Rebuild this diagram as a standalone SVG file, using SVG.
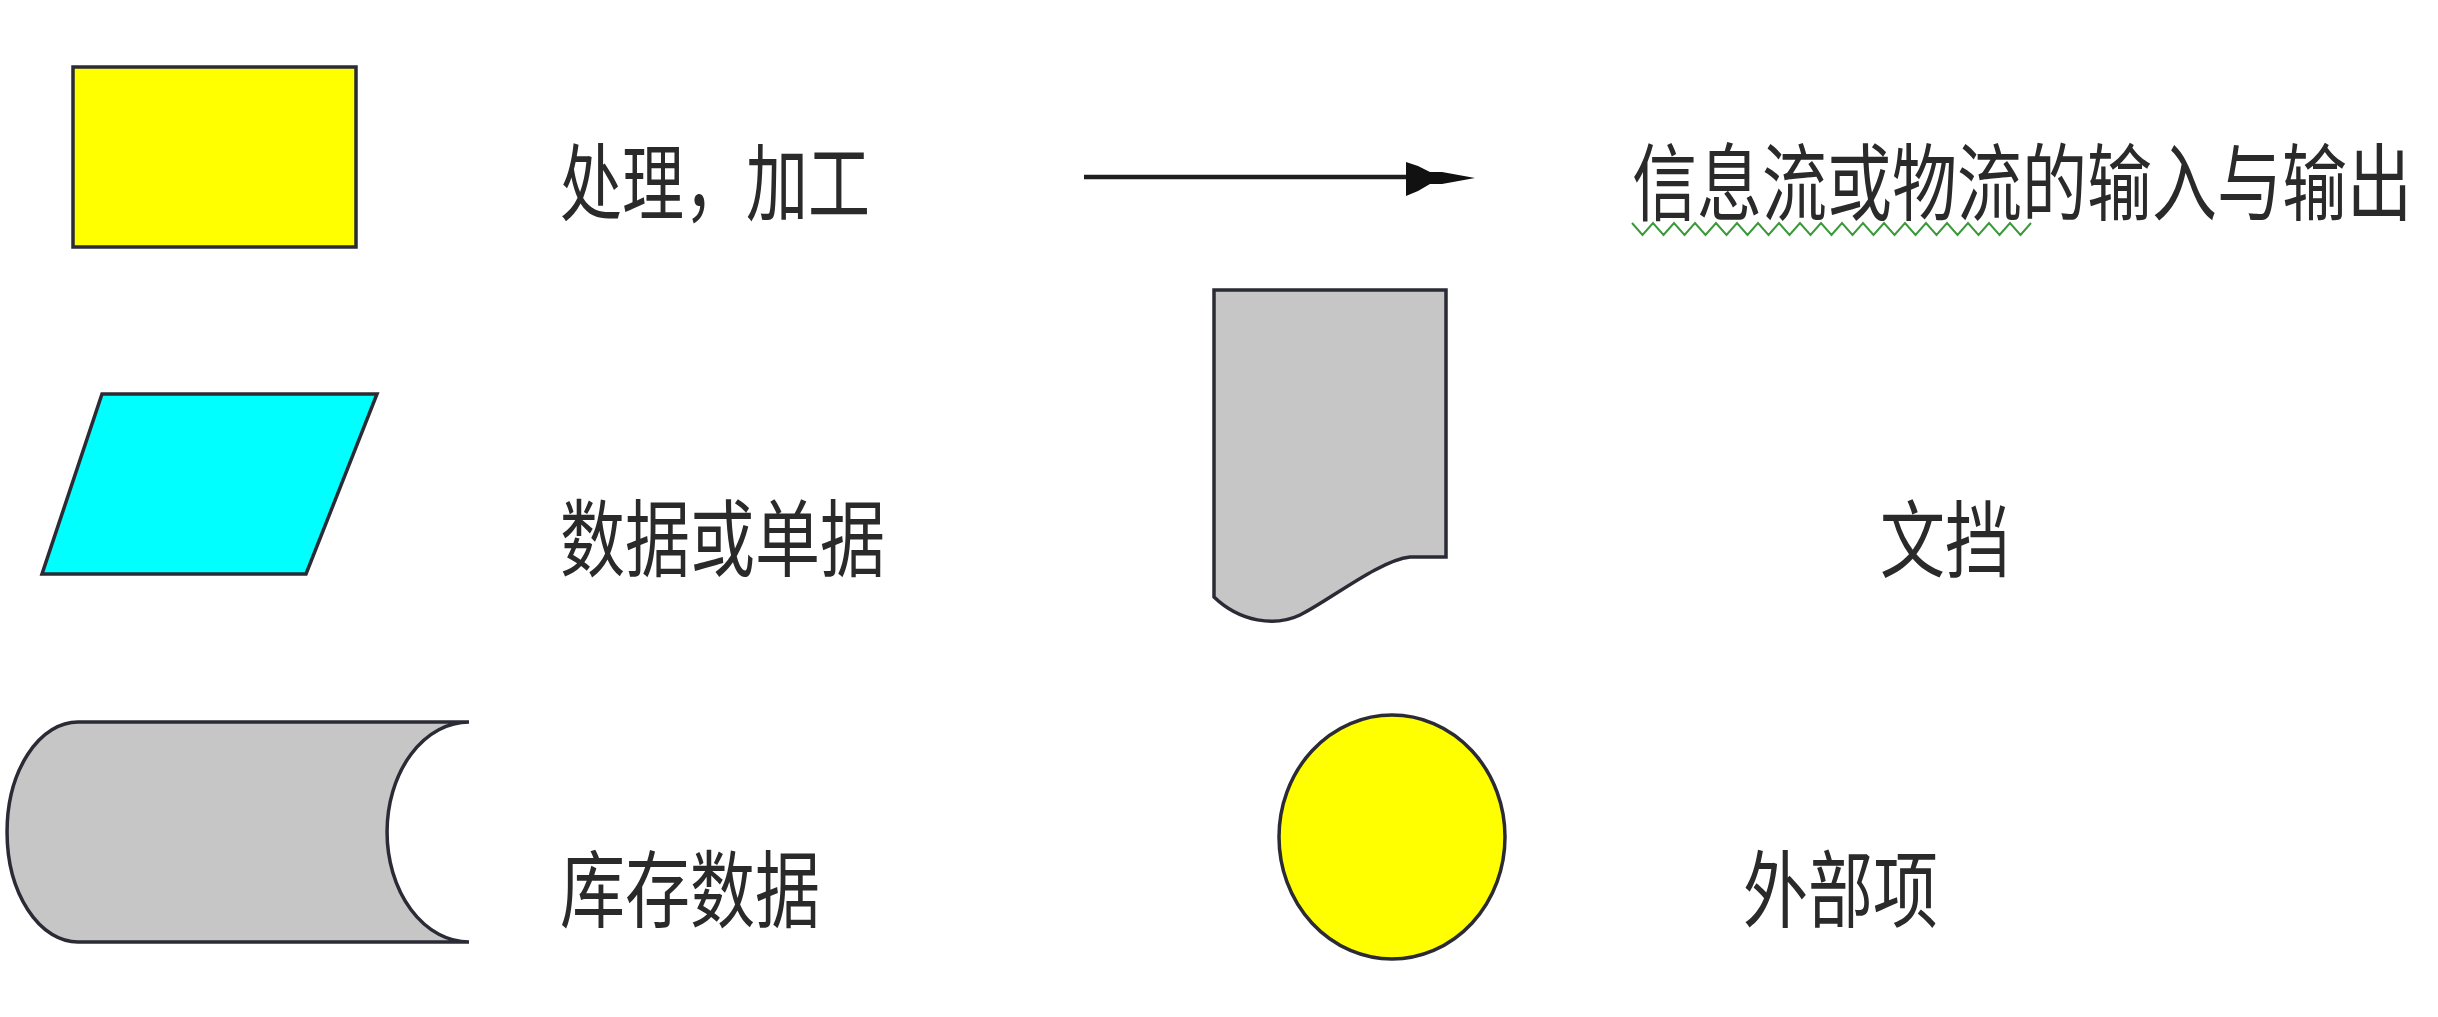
<svg xmlns="http://www.w3.org/2000/svg" width="2438" height="1017" viewBox="0 0 2438 1017">
<style>
.shape{stroke:#2b2b36;stroke-width:3.5;stroke-linejoin:miter}
.lbl{font-family:"Noto Sans CJK SC","Noto Sans",sans-serif;font-size:65px;fill:#2a2a2a}
.conn{stroke:#1e1e1e;stroke-width:4.5;fill:none}
.head{fill:#111;stroke:none}
.squiggle{fill:none;stroke:#3a9a3a;stroke-width:2}
</style>
<rect width="2438" height="1017" fill="#ffffff"/>
<g id="process">
<rect class="shape" x="73" y="67" width="283" height="180" fill="#ffff00"/>
<text class="lbl" transform="translate(560,214) scale(1,1.3)" textLength="310" lengthAdjust="spacingAndGlyphs">处理，加工</text>
</g>
<g id="data">
<polygon class="shape" points="102,394 377,394 306,574 42,574" fill="#00ffff"/>
<text class="lbl" transform="translate(560,570) scale(1,1.3)">数据或单据</text>
</g>
<g id="storage">
<path class="shape" d="M78,722 H469 A82,110 0 0 0 469,942 H78 A71,110 0 0 1 78,722 Z" fill="#c6c6c6"/>
<text class="lbl" transform="translate(560,921) scale(1,1.3)">库存数据</text>
</g>
<g id="flow-label">
<text class="lbl" transform="translate(1632,214) scale(1,1.3)">信息流或物流的输入与输出</text>
<polyline class="squiggle" points="1632,223 1642.5,235 1653,223 1663.5,235 1674,223 1684.5,235 1695,223 1705.5,235 1716,223 1726.5,235 1737,223 1747.5,235 1758,223 1768.5,235 1779,223 1789.5,235 1800,223 1810.5,235 1821,223 1831.5,235 1842,223 1852.5,235 1863,223 1873.5,235 1884,223 1894.5,235 1905,223 1915.5,235 1926,223 1936.5,235 1947,223 1957.5,235 1968,223 1978.5,235 1989,223 1999.5,235 2010,223 2020.5,235 2031,223"/>
</g>
<g id="document">
<path class="shape" d="M1214,290 H1446 V557 H1410 C1380,560 1330,600 1300,615 C1275,627 1240,622 1214,597 Z" fill="#c6c6c6"/>
<text class="lbl" transform="translate(1880,571) scale(1,1.3)">文挡</text>
</g>
<g id="external">
<ellipse class="shape" cx="1392" cy="837" rx="113" ry="122" fill="#ffff00"/>
<text class="lbl" transform="translate(1743,921) scale(1,1.3)">外部项</text>
</g>
<g id="connectors">
<line class="conn" x1="1084" y1="177" x2="1415" y2="177"/>
<polygon class="head" points="1406,162 1418,166 1430,172 1442,172 1475,178 1442,184 1430,184 1418,191 1406,196"/>
</g>
</svg>
